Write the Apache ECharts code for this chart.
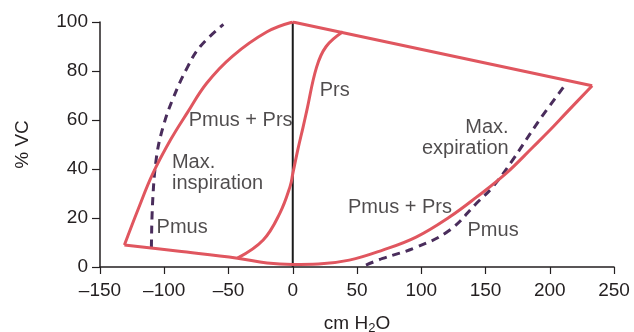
<!DOCTYPE html>
<html>
<head>
<meta charset="utf-8">
<script src="https://cdn.jsdelivr.net/npm/echarts@6/dist/echarts.min.js"></script>
<style>
    html, body { margin: 0; padding: 0; background: #fff; }
    #chart { width: 634px; height: 332px; }
</style>
</head>
<body>
<div id="chart"></div>
<script>
// x ticks and y ticks
const xTicks = [-150, -100, -50, 0, 50, 100, 150, 200, 250];
const yTicks = [0, 20, 40, 60, 80, 100];

// loop (Pmus + Prs), cm H2O vs % VC
const inspCurve = [[-131, 9], [-120, 24], [-109, 38], [-95, 52], [-82, 63], [-67, 75], [-47, 86], [-20, 96], [0, 100]];
const topLine = [[0, 100], [233, 74]];
const expCurve = [[233, 74], [213, 63], [200, 55.8], [187, 49], [166, 38.2], [143, 28.5], [122, 20.4], [96, 12.2], [70, 6.9], [44, 2.8], [20, 1.2], [0, 1], [-20, 1.6], [-43, 3.6], [-90, 6.5], [-131, 9]];
// relaxation curve (Prs)
const prsCurve = [[-43, 3.6], [-23, 11], [-10, 22], [-2, 33], [0, 38], [4, 48], [8, 57], [11, 64], [18.5, 81.5], [26, 90], [39, 96]];
// Pmus only (dashed)
const pmusInsp = [[-110, 8], [-109, 27], [-106, 45], [-101, 57], [-93, 69], [-82, 81.5], [-72, 90], [-54, 99]];
const pmusExp = [[57, 0.8], [70, 3.5], [96, 8], [122, 15], [143, 26], [155.5, 32.6], [170, 42.8], [192, 60], [213, 75]];
const zeroLine = [[0, 0], [0, 100]];

// text labels: [x, y, text, side]
const notes = [
    [-81, 60, 'Pmus + Prs', 'right'],
    [-94, 38.5, 'Max.\ninspiration', 'right'],
    [-106, 16, 'Pmus', 'right'],
    [21, 72, 'Prs', 'right'],
    [168, 52.7, 'Max.\nexpiration', 'left'],
    [43, 24.4, 'Pmus + Prs', 'right'],
    [136, 15, 'Pmus', 'right'],
];

const RED = '#e0565f';
const PURPLE = '#4a2d5c';
const INK = '#231f20';
const FONT = '"Liberation Sans", Arial, sans-serif';

const myChart = echarts.init(document.getElementById('chart'));

function lineSerie(data, color, width, dashed, smooth) {
    return {
        type: 'line',
        data: data,
        symbol: 'none',
        smooth: smooth,
        lineStyle: {
            color: color,
            width: width,
            type: dashed ? [8, 6] : 'solid',
            cap: 'butt',
            join: 'miter',
        },
        silent: true,
        z: dashed ? 2 : 3,
    };
}

const option = {
    animation: false,
    grid: {
        left: 100,
        right: 20,
        top: 22,
        bottom: 65,
        outerBoundsMode: 'none',
    },
    xAxis: {
        type: 'value',
        min: xTicks[0],
        max: xTicks[xTicks.length - 1],
        interval: 50,
        splitLine: { show: false },
        axisLine: { show: true, onZero: false, lineStyle: { color: INK, width: 1.5 } },
        axisTick: { show: true, length: 7, lineStyle: { color: INK, width: 1.2 } },
        axisLabel: {
            color: INK,
            fontSize: 19,
            fontFamily: FONT,
            margin: 14,
            formatter: v => String(v).replace('-', '\u2013'),
        },
        name: 'cm H{sub|2}O',
        nameLocation: 'middle',
        nameGap: 46,
        nameTextStyle: {
            color: INK,
            fontSize: 19,
            fontFamily: FONT,
            lineHeight: 22,
            rich: {
                sub: { fontSize: 13, fontFamily: FONT, color: INK, verticalAlign: 'bottom', lineHeight: 22, padding: [8, 0, 0, 0] },
            },
        },
    },
    yAxis: {
        type: 'value',
        min: yTicks[0],
        max: yTicks[yTicks.length - 1],
        interval: 20,
        splitLine: { show: false },
        axisLine: { show: true, onZero: false, lineStyle: { color: INK, width: 1.5 } },
        axisTick: { show: true, length: 8, lineStyle: { color: INK, width: 1.2 } },
        axisLabel: {
            color: INK,
            fontSize: 19,
            fontFamily: FONT,
            margin: 12,
        },
        name: '% VC',
        nameLocation: 'middle',
        nameGap: 68,
        nameRotate: 90,
        nameTextStyle: { color: INK, fontSize: 19, fontFamily: FONT },
    },
    series: [
        lineSerie(zeroLine, '#1a1a1a', 2, false, false),
        lineSerie(pmusInsp, PURPLE, 3, true, 0.4),
        lineSerie(pmusExp, PURPLE, 3, true, 0.4),
        lineSerie(inspCurve, RED, 3, false, 0.4),
        lineSerie(topLine, RED, 3, false, false),
        lineSerie(expCurve, RED, 3, false, 0.4),
        lineSerie(prsCurve, RED, 3, false, 0.4),
        {
            type: 'scatter',
            symbolSize: 0,
            silent: true,
            data: notes.map(n => ({
                value: [n[0], n[1]],
                label: {
                    show: true,
                    formatter: n[2],
                    position: n[3],
                    distance: 0,
                    align: n[3] === 'left' ? 'right' : 'left',
                    color: INK,
                    fontSize: 20,
                    fontFamily: FONT,
                    lineHeight: 21,
                },
            })),
            z: 5,
        },
    ],
};

myChart.setOption(option);
</script>
</body>
</html>
